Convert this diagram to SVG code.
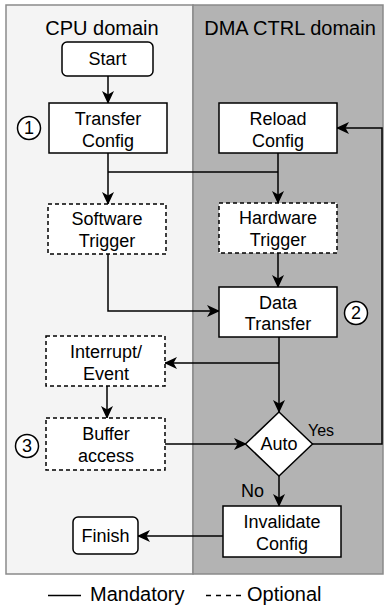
<svg xmlns="http://www.w3.org/2000/svg" width="384" height="605" viewBox="0 0 384 605">
<style>
text{font-family:"Liberation Sans",Arial,Helvetica,sans-serif;fill:#000}
.t{font-size:18px;text-anchor:middle}
.h{font-size:20px;text-anchor:middle}
.box{fill:#fff;stroke:#000;stroke-width:1.5}
.dash{fill:#fff;stroke:#000;stroke-width:1.5;stroke-dasharray:4 3}
.ln{fill:none;stroke:#000;stroke-width:1.5}
.ar{fill:none;stroke:#000;stroke-width:1.5;marker-end:url(#arr)}
.num{fill:#fff;stroke:#000;stroke-width:1.5}
</style>
<defs>
<marker id="arr" viewBox="0 0 13 12" refX="12" refY="6" markerWidth="13" markerHeight="12" markerUnits="userSpaceOnUse" orient="auto">
<path d="M0,0 L13,6 L0,12 L3.5,6 Z" fill="#000"/>
</marker>
</defs>
<g id="lanes">
<rect x="6" y="5" width="187" height="569" fill="#f4f4f4" stroke="#8a8a8a" stroke-width="1.5"/>
<rect x="193" y="5" width="190" height="569" fill="#b3b3b3" stroke="#8a8a8a" stroke-width="1.5"/>
<text class="h" x="102" y="35">CPU domain</text>
<text class="h" x="290" y="35">DMA CTRL domain</text>
</g>
<g id="connectors">
<line class="ar" x1="108" y1="76" x2="108" y2="103"/>
<line class="ar" x1="108" y1="153" x2="108" y2="204"/>
<polyline class="ln" points="108,172 278,172"/>
<line class="ar" x1="278" y1="153" x2="278" y2="203"/>
<polyline class="ar" points="108,254 108,311 219,311"/>
<line class="ar" x1="278" y1="253" x2="278" y2="287"/>
<line class="ar" x1="279" y1="337" x2="279" y2="412"/>
<polyline class="ar" points="279,363 165,363"/>
<line class="ar" x1="107" y1="386" x2="107" y2="418"/>
<line class="ar" x1="165" y1="444" x2="246" y2="444"/>
<polyline class="ar" points="312,444 382,444 382,128 337,128"/>
<line class="ar" x1="279" y1="476" x2="279" y2="506"/>
<line class="ar" x1="223" y1="536" x2="138" y2="536"/>
<text x="308" y="436" font-size="16">Yes</text>
<text x="241" y="497" font-size="18">No</text>
</g>
<g id="start"><rect class="box" x="62" y="42" width="91" height="34" rx="5"/><text class="t" x="107.5" y="65">Start</text></g>
<g id="transfer-config"><rect class="box" x="49" y="103" width="118" height="50"/><text class="t" x="108" y="125">Transfer</text><text class="t" x="108" y="147">Config</text></g>
<g id="reload-config"><rect class="box" x="219" y="103" width="118" height="50"/><text class="t" x="278" y="125">Reload</text><text class="t" x="278" y="147">Config</text></g>
<g id="software-trigger"><rect class="dash" x="48" y="204" width="118" height="50"/><text class="t" x="107" y="225">Software</text><text class="t" x="107" y="247">Trigger</text></g>
<g id="hardware-trigger"><rect class="dash" x="219" y="203" width="118" height="50"/><text class="t" x="278" y="224">Hardware</text><text class="t" x="278" y="246">Trigger</text></g>
<g id="data-transfer"><rect class="box" x="219" y="287" width="118" height="50"/><text class="t" x="278" y="309">Data</text><text class="t" x="278" y="330">Transfer</text></g>
<g id="interrupt-event"><rect class="dash" x="46" y="336" width="119" height="50"/><text class="t" x="106" y="358">Interrupt/</text><text class="t" x="106" y="380">Event</text></g>
<g id="buffer-access"><rect class="dash" x="46" y="418" width="119" height="52"/><text class="t" x="106" y="440">Buffer</text><text class="t" x="106" y="462">access</text></g>
<g id="auto"><polygon class="box" points="279,412 312.5,444 279,476 245.5,444"/><text class="t" x="279" y="450">Auto</text></g>
<g id="invalidate-config"><rect class="box" x="223" y="506" width="118" height="51"/><text class="t" x="282" y="528">Invalidate</text><text class="t" x="282" y="550">Config</text></g>
<g id="finish"><rect class="box" x="73" y="517" width="65" height="37" rx="5"/><text class="t" x="105.5" y="542">Finish</text></g>
<g id="marker-1"><circle class="num" cx="29" cy="128" r="11.5"/><text class="t" x="29" y="134" font-size="17">1</text></g>
<g id="marker-2"><circle class="num" cx="356" cy="313" r="11.5"/><text class="t" x="356" y="319" font-size="17">2</text></g>
<g id="marker-3"><circle class="num" cx="27" cy="446" r="11.5"/><text class="t" x="27" y="452" font-size="17">3</text></g>
<g id="legend">
<line x1="48" y1="595.5" x2="81" y2="595.5" stroke="#000" stroke-width="1.5"/>
<text x="90" y="601" font-size="20">Mandatory</text>
<line x1="206" y1="595.5" x2="242" y2="595.5" stroke="#000" stroke-width="1.5" stroke-dasharray="5 5"/>
<text x="247" y="601" font-size="20">Optional</text>
</g>
</svg>
